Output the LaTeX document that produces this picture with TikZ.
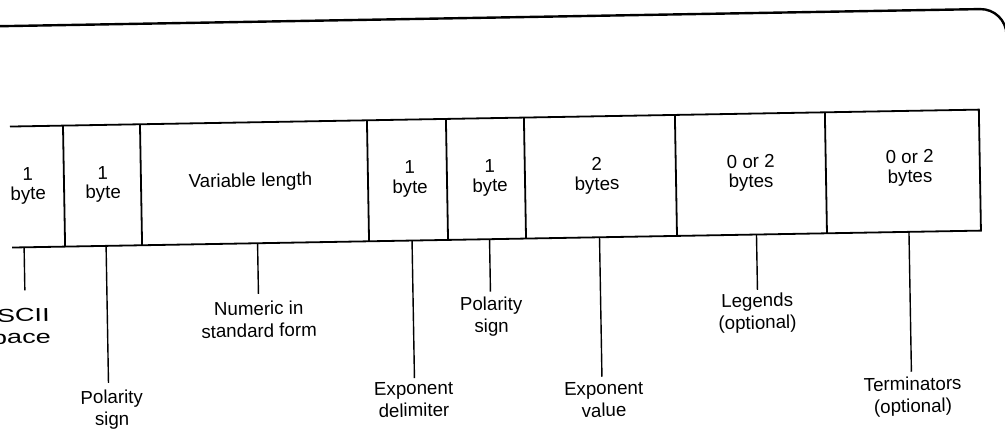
\documentclass[tikz,border=0pt]{standalone}
\usepackage{fontspec}
\setmainfont{Liberation Sans}
\begin{document}
\begin{tikzpicture}[x=1pt,y=-1pt,
  every node/.style={inner sep=0pt},
  cell/.style={align=center, font=\fontsize{18.7}{19.5}\selectfont},
  lab/.style={align=center, anchor=north, font=\fontsize{18.7}{22}\selectfont},
  frame/.style={line width=1.8pt},
  leader/.style={line width=1.4pt},
  toprule/.style={line width=2.4pt, rounded corners=26pt}]
\useasboundingbox (0,0) rectangle (1005,430);
\clip (0,0) rectangle (1005,430);
\begin{scope}[rotate around={1:(500,180)}, transform shape]
  % top page rule
  \draw[toprule] (-10,17.5) -- (1009,17.5) -- (1009,90);
  % table frame
  \draw[frame] (11,118) -- (980,118) -- (980,239) -- (11,239);
  \foreach \dx in {64,141,368,447,525,676,826}
    \draw[frame] (\dx,118) -- (\dx,239);
  % cell texts
  \node[cell] (c1) at (28,177.5) {1\\byte};
  \node[cell] (c2) at (103,177.5) {1\\byte};
  \node[cell] (c3) at (250.5,177.5) {Variable length};
  \node[cell] (c4) at (410,177.5) {1\\byte};
  \node[cell] (c5) at (490,177.5) {1\\byte};
  \node[cell] (c6) at (597,177.5) {2\\bytes};
  \node[cell] (c7) at (751,177.5) {0 or 2\\bytes};
  \node[cell] (c8) at (910,175.5) {0 or 2\\bytes};
  % leader start points on the bottom edge
  \coordinate (b1) at (23,239);
  \coordinate (b2) at (105,239);
  \coordinate (b3) at (256.5,239);
  \coordinate (b4) at (411,239);
  \coordinate (b5) at (488.5,239);
  \coordinate (b6) at (598.5,239);
  \coordinate (b7) at (755.5,239);
  \coordinate (b8) at (908,239);
  % labels
  \node[lab, xscale=1.45] (l1) at (12,300) {ASCII\\space};
  \node[lab] (l2) at (108,383) {Polarity\\sign};
  \node[lab] (l3) at (256.5,297.2) {Numeric in\\standard form};
  \node[lab] (l4) at (410,380.2) {Exponent\\delimiter};
  \node[lab] (l5) at (489,296.5) {Polarity\\sign};
  \node[lab] (l6) at (600,383.5) {Exponent\\value};
  \node[lab] (l7) at (755,297.8) {Legends\\(optional)};
  \node[lab] (l8) at (909,383.9) {Terminators\\(optional)};
  % leaders
  \draw[leader, shorten >=18pt] (b1) -- (b1 |- l1.north);
  \draw[leader, shorten >=7pt] (b2) -- (b2 |- l2.north);
  \draw[leader, shorten >=7.5pt] (b3) -- (b3 |- l3.north);
  \draw[leader, shorten >=3.5pt] (b4) -- (b4 |- l4.north);
  \draw[leader, shorten >=5pt] (b5) -- (b5 |- l5.north);
  \draw[leader, shorten >=5pt] (b6) -- (b6 |- l6.north);
  \draw[leader, shorten >=3.5pt] (b7) -- (b7 |- l7.north);
  \draw[leader, shorten >=5pt] (b8) -- (b8 |- l8.north);
\end{scope}
\end{tikzpicture}
\end{document}
